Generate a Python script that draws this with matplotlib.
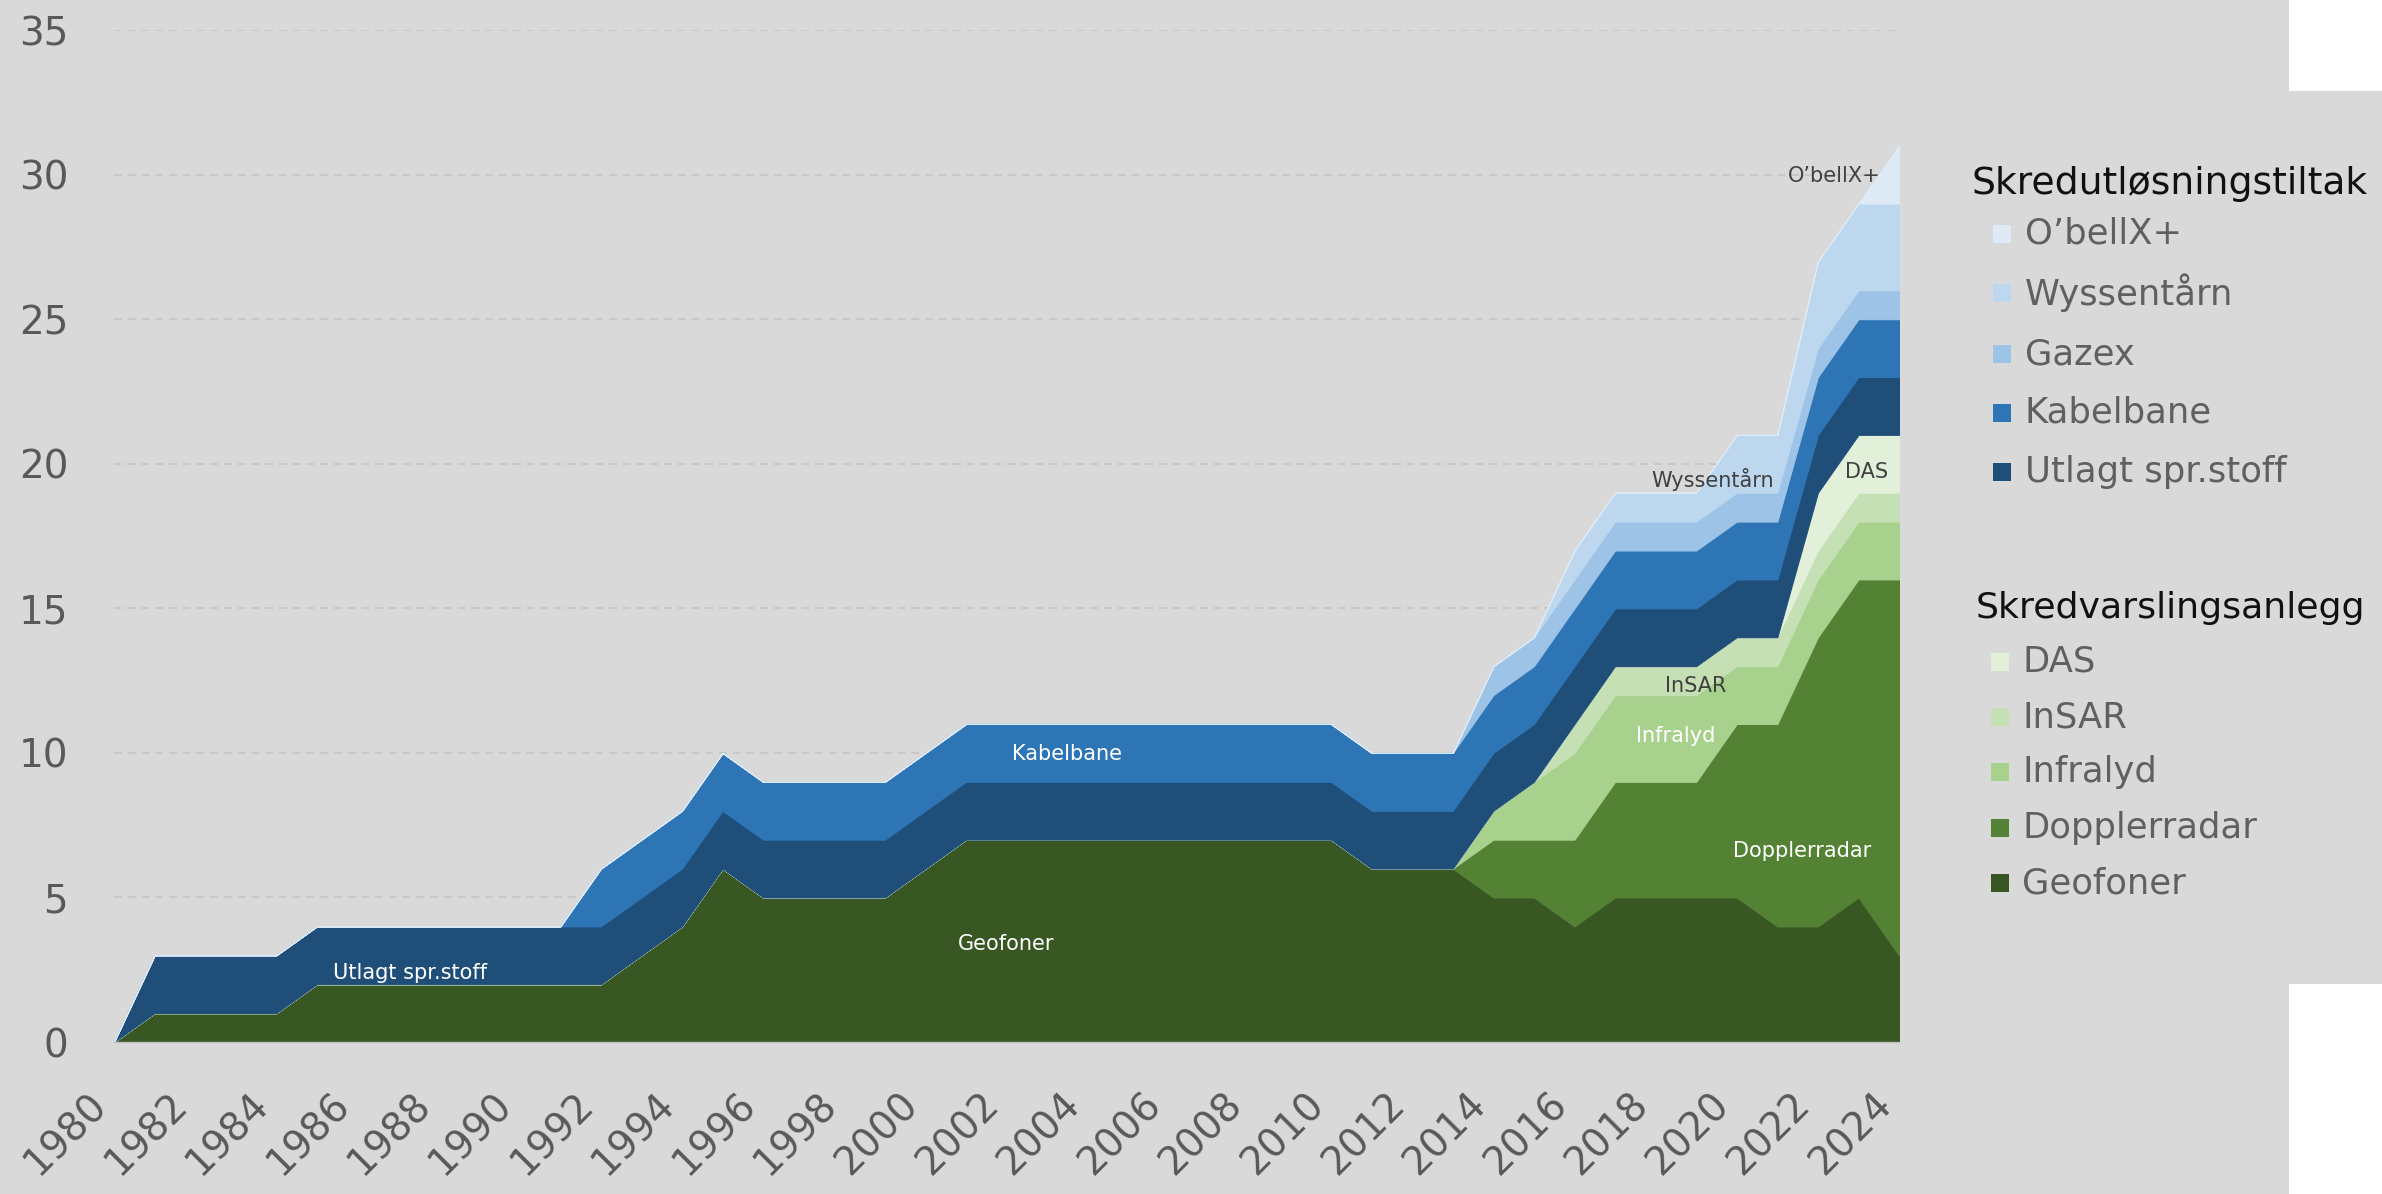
import matplotlib
matplotlib.use("Agg")
import matplotlib.pyplot as plt
from matplotlib.patches import Rectangle
import numpy as np

# ---------------- data ----------------
years = list(range(1980, 2025))

geofoner = [0, 1, 1, 1, 1, 2, 2, 2, 2, 2, 2, 2, 2, 3, 4, 6, 5, 5, 5, 5,
            6, 7, 7, 7, 7, 7, 7, 7, 7, 7, 7, 6, 6, 6, 5, 5, 4, 5, 5, 5,
            5, 4, 4, 5, 3]
dopplerradar = [0] * 34 + [2, 2, 3, 4, 4, 4, 6, 7, 10, 11, 13]
infralyd = [0] * 34 + [1, 2, 3, 3, 3, 3, 2, 2, 2, 2, 2]
insar = [0] * 36 + [1, 1, 1, 1, 1, 1, 1, 1, 1]
das = [0] * 42 + [2, 2, 2]
utlagt = [0] + [2] * 44
kabelbane = [0] * 12 + [2] * 33
gazex = [0] * 34 + [1] * 11
wyssentarn = [0] * 36 + [1, 1, 1, 1, 2, 2, 3, 3, 3]
obellix = [0] * 44 + [2]

series_names = ["Geofoner", "Dopplerradar", "Infralyd", "InSAR", "DAS",
                "Utlagt spr.stoff", "Kabelbane", "Gazex", "Wyssentårn", "O’bellX+"]
series_values = [geofoner, dopplerradar, infralyd, insar, das,
                 utlagt, kabelbane, gazex, wyssentarn, obellix]
series_colors = ["#385723", "#548235", "#A9D18E", "#C5E0B4", "#E2F0D9",
                 "#1F4E79", "#2E75B6", "#9DC3E6", "#BDD7EE", "#DEEBF7"]

xtick_labels = [str(y) for y in range(1980, 2025, 2)]
ytick_values = list(range(0, 36, 5))

legend1_title = "Skredutløsningstiltak"
legend1_items = ["O’bellX+", "Wyssentårn", "Gazex", "Kabelbane", "Utlagt spr.stoff"]
legend2_title = "Skredvarslingsanlegg"
legend2_items = ["DAS", "InSAR", "Infralyd", "Dopplerradar", "Geofoner"]

# in-chart labels: (text, x, y, color)
area_labels = [
    ("Utlagt spr.stoff", 1987.3, 2.4, "white"),
    ("Geofoner", 2002.0, 3.4, "white"),
    ("Kabelbane", 2003.5, 9.95, "white"),
    ("Dopplerradar", 2021.6, 6.6, "white"),
    ("Infralyd", 2018.5, 10.6, "white"),
    ("InSAR", 2019.0, 12.3, "#404040"),
    ("DAS", 2023.2, 19.7, "#404040"),
    ("Wyssentårn", 2019.4, 19.45, "#404040"),
    ("O’bellX+", 2022.4, 29.95, "#404040"),
]

# ---------------- figure ----------------
W, H = 2382, 1194
BG = "#D9D9D9"
fig = plt.figure(figsize=(W / 100, H / 100), dpi=100, facecolor="white")

# gray background areas
fig.patches.append(Rectangle((0, 0), 2289 / W, 1, transform=fig.transFigure,
                             facecolor=BG, edgecolor="none", zorder=-10))
fig.patches.append(Rectangle((2289 / W, 1 - 984 / H), 1 - 2289 / W, (984 - 91) / H,
                             transform=fig.transFigure, facecolor=BG,
                             edgecolor="none", zorder=-10))

ax = fig.add_axes([114 / W, 1 - 1042 / H, (1899 - 114) / W, (1042 - 30) / H])
ax.set_facecolor("none")

colls = ax.stackplot(years, *series_values, colors=series_colors, linewidth=0)
for c, col in zip(colls, series_colors):
    c.set_edgecolor(col)
    c.set_linewidth(0.8)

ax.set_xlim(1980, 2024)
ax.set_ylim(0, 35)
ax.set_xticks(range(1980, 2025, 2))
ax.set_xticklabels(xtick_labels, rotation=45, ha="right", va="top")
ax.set_yticks(ytick_values)
ax.tick_params(axis="y", length=0, pad=33, labelsize=28, labelcolor="#595959")
ax.tick_params(axis="x", length=0, pad=31, labelsize=28, labelcolor="#595959")
for lbl in ax.get_xticklabels():
    lbl.set_x(lbl.get_position()[0])

ax.set_axisbelow(True)
ax.grid(axis="y", color="#C4C4C4", linestyle=(0, (5, 4)), linewidth=1.1)
ax.grid(axis="x", visible=False)
for s in ["top", "right", "left"]:
    ax.spines[s].set_visible(False)
ax.spines["bottom"].set_color("#BFBFBF")
ax.spines["bottom"].set_linewidth(1)
ax.spines["bottom"].set_zorder(5)

for txt, x, y, col in area_labels:
    ax.text(x, y, txt, color=col, fontsize=15, ha="center", va="center", zorder=6)

# ---------------- legends ----------------
color_of = dict(zip(series_names, series_colors))

def draw_legend(title, items, title_x, title_y, mark_x, text_x, ys, tsize):
    fig.text(title_x / W, 1 - title_y / H, title, fontsize=tsize, color="#111111",
             ha="left", va="center")
    for name, y in zip(items, ys):
        s = 18
        fig.patches.append(Rectangle(((mark_x - s / 2) / W, 1 - (y + s / 2) / H),
                                     s / W, s / H, transform=fig.transFigure,
                                     facecolor=color_of[name], edgecolor="none"))
        fig.text(text_x / W, 1 - y / H, name, fontsize=25.5, color="#606060",
                 ha="left", va="center")

draw_legend(legend1_title, legend1_items, 1972, 184, 2002, 2025,
            [234, 293, 354, 413, 472], 27.2)
draw_legend(legend2_title, legend2_items, 1976, 608, 2000, 2022,
            [662, 717, 772, 828, 883], 26.2)

fig.savefig("out.png", dpi=100, facecolor=fig.get_facecolor())
